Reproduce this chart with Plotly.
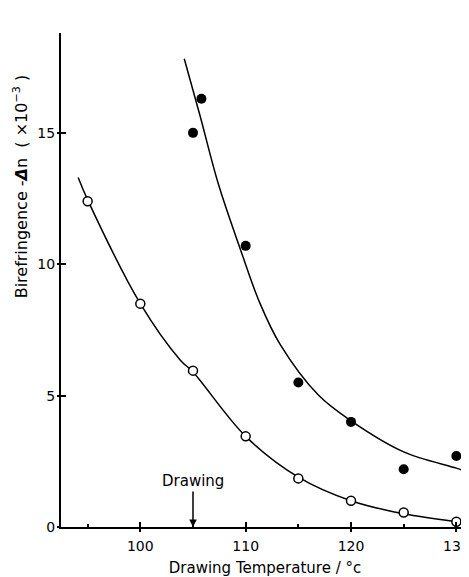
import plotly.graph_objects as go

# Measured points (open circles)
open_x = [95, 100, 105, 110, 115, 120, 125, 130]
open_y = [12.4, 8.5, 5.95, 3.45, 1.85, 1.0, 0.55, 0.2]

# Measured points (filled circles)
filled_x = [105, 105.8, 110, 115, 120, 125, 130]
filled_y = [15.0, 16.3, 10.7, 5.5, 4.0, 2.2, 2.7]

# Fitted curves
open_curve_x = [94.1, 95, 100, 103.8, 105, 110, 115, 120, 125, 130, 131.2]
open_curve_y = [13.3, 12.45, 8.5, 6.35, 5.9, 3.45, 1.9, 1.0, 0.5, 0.2, 0.15]

filled_curve_x = [104.17, 105.67, 107.41, 109.6, 111.37, 113.27, 116.9, 119.9, 125, 130, 131.0]
filled_curve_y = [17.82, 15.65, 13.05, 10.45, 8.5, 6.95, 5.02, 4.07, 2.86, 2.24, 2.1]

x_ticks = [100, 110, 120, 130]
y_ticks = [0, 5, 10, 15]

FONT = "DejaVu Sans"
X_RANGE = [92.47, 131.2]
Y_RANGE = [0, 18.8]

fig = go.Figure()
fig.add_trace(go.Scatter(x=open_curve_x, y=open_curve_y, mode="lines",
                         line=dict(color="black", width=1.5, shape="spline", smoothing=1),
                         showlegend=False, hoverinfo="skip", cliponaxis=False))
fig.add_trace(go.Scatter(x=filled_curve_x, y=filled_curve_y, mode="lines",
                         line=dict(color="black", width=1.5, shape="spline", smoothing=1),
                         showlegend=False, hoverinfo="skip", cliponaxis=False))
fig.add_trace(go.Scatter(x=open_x, y=open_y, mode="markers",
                         marker=dict(symbol="circle", size=9, color="white",
                                     line=dict(color="black", width=1.5)),
                         showlegend=False, cliponaxis=False))
fig.add_trace(go.Scatter(x=filled_x, y=filled_y, mode="markers",
                         marker=dict(symbol="circle", size=10, color="black",
                                     line=dict(color="black", width=0)),
                         showlegend=False, cliponaxis=False))

# overlay axes to get ticks crossing the axis lines
fig.add_trace(go.Scatter(x=[None], y=[None], xaxis="x2", yaxis="y2", showlegend=False))

# page body has an 8px margin, so the figure is sized/offset to compensate
fig.update_layout(
    width=461, height=569,
    margin=dict(l=53, r=0, t=25, b=50, autoexpand=False),
    plot_bgcolor="white", paper_bgcolor="white",
    font=dict(family=FONT, size=14, color="black"),
    xaxis=dict(range=X_RANGE, tickvals=x_ticks, ticks="inside", ticklen=5,
               tickwidth=1.5, tickcolor="black", automargin=False,
               showline=True, linecolor="black", linewidth=2, showgrid=False,
               zeroline=False, tickfont=dict(size=14), ticklabelstandoff=5,
               ticklabeloverflow="allow",
               minor=dict(tickvals=[95, 105, 115, 125], ticks="inside", ticklen=3,
                          tickwidth=1.5, tickcolor="black"),
               title=dict(text="Drawing Temperature / °c", font=dict(size=15), standoff=10)),
    yaxis=dict(range=Y_RANGE, tickvals=y_ticks, ticks="inside", ticklen=5,
               tickwidth=1.5, tickcolor="black", automargin=False,
               showline=True, linecolor="black", linewidth=2, showgrid=False,
               zeroline=False, tickfont=dict(size=14), ticklabelstandoff=1),
    xaxis2=dict(range=X_RANGE, overlaying="x", tickvals=x_ticks, ticks="outside",
                ticklen=4, tickwidth=1.5, tickcolor="black", showticklabels=False,
                showgrid=False, zeroline=False, showline=False, automargin=False),
    yaxis2=dict(range=Y_RANGE, overlaying="y", tickvals=y_ticks, ticks="outside",
                ticklen=3, tickwidth=1.5, tickcolor="black", showticklabels=False,
                showgrid=False, zeroline=False, showline=False, automargin=False),
)

fig.add_annotation(
    text="Birefringence -<b><i>Δ</i></b>n  ( ×10<sup>−3</sup> )",
    xref="paper", yref="paper", x=-0.1, y=0.69,
    textangle=-90, showarrow=False, font=dict(size=16), xanchor="center", yanchor="middle")

fig.add_annotation(
    text="Drawing", x=105, y=0, xref="x", yref="y",
    ax=0, ay=-46, showarrow=True, arrowhead=2, arrowsize=1, arrowwidth=1.5,
    arrowcolor="black", font=dict(size=15))

fig.write_html("out.html")
